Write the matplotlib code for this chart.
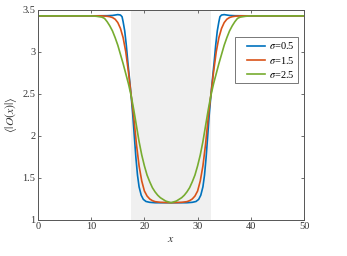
import matplotlib
matplotlib.use("Agg")
import matplotlib.pyplot as plt
from matplotlib.ticker import FuncFormatter
from matplotlib.lines import Line2D
from matplotlib.legend_handler import HandlerLine2D

# ---- data ----
x_blue = [0, 5, 10, 13, 14, 14.5, 15, 15.5, 15.8, 16.0, 16.3, 16.6, 16.9, 17.2, 17.5, 17.8,
          18.1, 18.4, 18.7, 19.0, 19.4, 19.8, 20.3, 21, 22, 25,
          28, 29, 29.7, 30.2, 30.6, 31.0, 31.3, 31.6, 31.9, 32.2, 32.5, 32.8, 33.1, 33.4,
          33.7, 34.0, 34.2, 34.5, 35, 35.5, 36, 37, 40, 45, 50]
y_blue = [3.43, 3.43, 3.43, 3.432, 3.435, 3.44, 3.445, 3.44, 3.42, 3.36, 3.25, 3.08, 2.87, 2.68, 2.48, 2.26,
          2.00, 1.74, 1.53, 1.39, 1.29, 1.24, 1.215, 1.205, 1.20, 1.20,
          1.20, 1.205, 1.215, 1.24, 1.29, 1.39, 1.53, 1.74, 2.00, 2.26, 2.48, 2.68, 2.87, 3.08,
          3.25, 3.36, 3.42, 3.44, 3.445, 3.44, 3.435, 3.432, 3.43, 3.43, 3.43]

x_red = [0, 5, 10, 12, 13, 13.5, 14, 14.5, 15, 15.5, 16, 16.5, 17, 17.5, 18, 18.5, 19, 19.5,
         20, 20.5, 21, 21.5, 22, 23, 25,
         27, 28, 28.5, 29, 29.5, 30, 30.5, 31, 31.5, 32, 32.5, 33, 33.5, 34, 34.5, 35, 35.5,
         36, 36.5, 37, 38, 40, 45, 50]
y_red = [3.43, 3.43, 3.43, 3.43, 3.425, 3.42, 3.41, 3.39, 3.35, 3.28, 3.17, 3.00, 2.76, 2.49, 2.22, 1.90, 1.64, 1.46,
         1.34, 1.28, 1.245, 1.225, 1.213, 1.205, 1.20,
         1.205, 1.213, 1.225, 1.245, 1.28, 1.34, 1.46, 1.64, 1.90, 2.22, 2.49, 2.76, 3.00, 3.17, 3.28, 3.35, 3.39,
         3.41, 3.42, 3.425, 3.43, 3.43, 3.43, 3.43]

x_green = [0, 5, 10, 11, 12, 12.5, 13, 13.5, 14, 14.5, 15, 15.5, 16, 16.5, 17, 17.5, 18, 18.5,
           19, 19.5, 20, 20.5, 21, 21.5, 22, 22.5, 23, 24, 25,
           26, 27, 27.5, 28, 28.5, 29, 29.5, 30, 30.5, 31, 31.5, 32, 32.5, 33, 33.5, 34, 34.5,
           35, 35.5, 36, 36.5, 37, 37.5, 38, 39, 40, 45, 50]
y_green = [3.43, 3.43, 3.43, 3.425, 3.415, 3.40, 3.36, 3.31, 3.25, 3.17, 3.08, 2.97, 2.86, 2.74, 2.62, 2.48, 2.31, 2.12,
           1.93, 1.77, 1.64, 1.53, 1.45, 1.38, 1.33, 1.29, 1.26, 1.22, 1.20,
           1.22, 1.26, 1.29, 1.33, 1.38, 1.45, 1.53, 1.64, 1.77, 1.93, 2.12, 2.31, 2.48, 2.62, 2.74, 2.86, 2.97,
           3.08, 3.17, 3.25, 3.31, 3.36, 3.40, 3.415, 3.425, 3.43, 3.43, 3.43]

series_labels = [r"$\sigma$=0.5", r"$\sigma$=1.5", r"$\sigma$=2.5"]
band = (17.5, 32.5)
x_ticks = [0, 10, 20, 30, 40, 50]
y_ticks = [1, 1.5, 2, 2.5, 3, 3.5]

# ---- style ----
plt.rcParams['font.family'] = ['Liberation Serif', 'DejaVu Serif']
plt.rcParams['mathtext.fontset'] = 'stix'

colors = ['#0072BD', '#D95319', '#77AC30']
axis_col = '#555555'

fig = plt.figure(figsize=(3.47, 2.56), dpi=100)
ax = fig.add_axes([38/347, 1-219.5/256, (304-38)/347, (219.5-10)/256])

ax.axvspan(band[0], band[1], color='#F0F0F0', zorder=0, lw=0)
for xs, ys, c, lab in zip([x_blue, x_red, x_green], [y_blue, y_red, y_green], colors, series_labels):
    ax.plot(xs, ys, color=c, lw=1.2, label=lab, zorder=2)

ax.set_xlim(0, 50)
ax.set_ylim(1, 3.5)
ax.set_xticks(x_ticks)
ax.set_yticks(y_ticks)
ax.yaxis.set_major_formatter(FuncFormatter(lambda v, p: f"{v:g}"))
ax.tick_params(direction='in', top=True, right=True, length=2.5, width=0.6,
               colors=axis_col, labelcolor='#333333', labelsize=7.5, pad=2)
for s in ax.spines.values():
    s.set_color(axis_col)
    s.set_linewidth(0.7)

ax.set_xlabel(r"$x$", fontsize=8.5, color='#333333', labelpad=1)
ax.set_ylabel(r"$\langle|O(x)|\rangle$", fontsize=8.5, color='#333333', labelpad=2)

leg = ax.legend(loc='upper right', bbox_to_anchor=(0.978, 0.872), borderaxespad=0,
                fontsize=7.5, frameon=True, fancybox=False, handlelength=2.6,
                handletextpad=0.35, labelspacing=0.3, borderpad=0.35,
                handler_map={Line2D: HandlerLine2D(xpad=0.8)})
leg.get_frame().set_edgecolor('#555555')
leg.get_frame().set_linewidth(0.7)

fig.savefig("out.png", dpi=100)
